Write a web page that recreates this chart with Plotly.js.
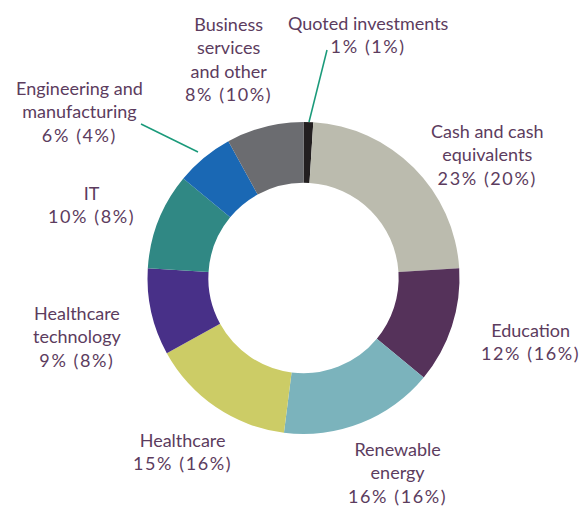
<!DOCTYPE html>
<html>
<head>
<meta charset="utf-8">
<script src="https://cdn.plot.ly/plotly-3.0.1.min.js"></script>
<style>
  html, body { margin: 0; padding: 0; background: #fff; }
  #chart { width: 581px; height: 506px; }
</style>
</head>
<body>
<div id="chart"></div>
<script>
// Sector split, current year % with prior year % in brackets
const sectors = ["Quoted investments", "Cash and cash equivalents", "Education", "Renewable energy",
  "Healthcare", "Healthcare technology", "IT", "Engineering and manufacturing", "Business services and other"];
const labelLines = ["Quoted investments", "Cash and cash<br>equivalents", "Education", "Renewable<br>energy",
  "Healthcare", "Healthcare<br>technology", "IT", "Engineering and<br>manufacturing", "Business<br>services<br>and other"];
const current = [1, 23, 12, 16, 15, 9, 10, 6, 8];
const prior = [1, 20, 16, 16, 16, 8, 8, 4, 10];
const colors = ["#231f20", "#bbbbae", "#55325a", "#7bb3bc", "#cccc66", "#483088", "#308884", "#1a68b4", "#6b6c70"];

// label centres in pixels (x, y of block centre)
const labelPos = [[368, 34], [487, 154], [530, 341], [397, 472], [182, 451], [77, 336], [91, 204], [79, 111], [228, 59]];

const W = 581, H = 506;
const textColor = "#5c3c5e";

const annotations = sectors.map((s, i) => ({
  text: labelLines[i] + "<br><span style=\"letter-spacing:1.6px\">" + current[i] + "% (" + prior[i] + "%)</span>",
  xref: "paper", yref: "paper",
  x: labelPos[i][0] / W, y: 1 - labelPos[i][1] / H,
  xanchor: "center", yanchor: "middle",
  showarrow: false, align: "center",
  font: { family: "Lato, 'Open Sans', sans-serif", size: 18, color: textColor }
}));

const lineColor = "#1a9a7a";
const shapes = [
  { type: "line", xref: "paper", yref: "paper", x0: 309 / W, y0: 1 - 122 / H, x1: 327 / W, y1: 1 - 50 / H,
    line: { color: lineColor, width: 1.5 } },
  { type: "line", xref: "paper", yref: "paper", x0: 141 / W, y0: 1 - 124 / H, x1: 198 / W, y1: 1 - 152 / H,
    line: { color: lineColor, width: 1.5 } }
];

const data = [{
  type: "pie",
  labels: sectors,
  values: current,
  sort: false,
  direction: "clockwise",
  rotation: 0,
  hole: 0.61,
  textinfo: "none",
  hoverinfo: "label+value",
  marker: { colors: colors, line: { width: 0 } },
  domain: { x: [147.5 / W, 459.5 / W], y: [1 - 434 / H, 1 - 122 / H] }
}];

const layout = {
  width: W, height: H,
  margin: { l: 0, r: 0, t: 0, b: 0 },
  showlegend: false,
  paper_bgcolor: "#fff",
  annotations: annotations,
  shapes: shapes
};

Plotly.newPlot("chart", data, layout, { displayModeBar: false, staticPlot: true });
</script>
</body>
</html>
